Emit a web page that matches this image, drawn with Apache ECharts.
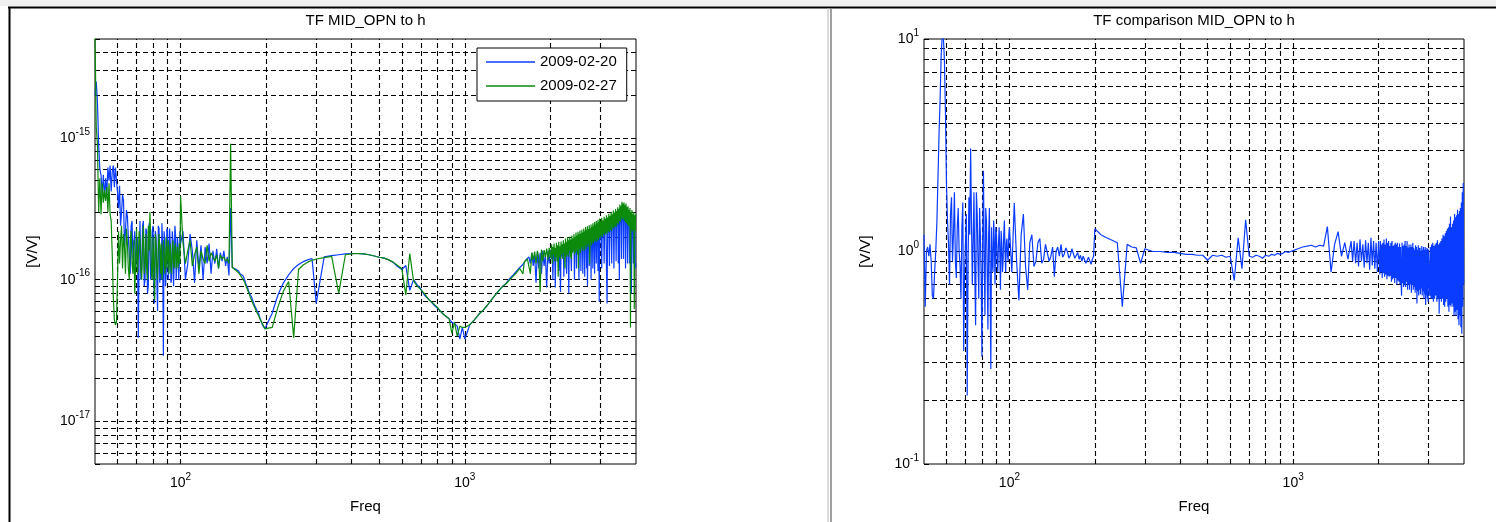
<!DOCTYPE html>
<html>
<head>
<meta charset="utf-8">
<script src="https://cdn.jsdelivr.net/npm/echarts@6/dist/echarts.min.js"></script>
<style>
  html, body { margin: 0; padding: 0; background: #fff; }
  #chart { width: 1496px; height: 522px; }
</style>
</head>
<body>
<div id="chart"></div>
<script>
// Frequency bins shared by all three traces (Hz)
const freq = [
  50,50.5,51,51.5,52,52.5,53,53.5,54,54.5,55,55.5,56,56.5,57,57.5,58,58.5,59,59.5,60,
  60.5,61,61.5,62,62.5,63,63.5,64,64.5,65,65.5,66,66.5,67,67.5,68,68.5,69,69.5,70,
  70.5,71,71.5,72,72.5,73,73.5,74,74.5,75,75.5,76,76.5,77,77.5,78,78.5,79,79.5,80,
  80.5,81,81.5,82,82.5,83,83.5,84,84.5,85,85.5,86,86.5,87,87.5,88,88.5,89,89.5,90,
  90.5,91,91.5,92,92.5,93,93.5,94,94.5,95,95.5,96,96.5,97,97.5,98,98.5,99,99.5,100,
  102,104,106,108,110,112,114,116,118,120,122,124,126,128,130,132,134,136,138,140,142,144,146,148,150,
  152,154,156,158,160,162,164,166,168,170,172,174,176,178,180,182,184,186,188,190,192,194,196,198,200,
  210,220,230,240,250,260,270,280,290,300,
  320,340,360,380,400,420,440,460,480,500,
  520,540,560,580,600,620,640,660,680,700,720,740,760,780,800,820,840,860,880,900,920,940,960,980,1000,
  1040,1080,1120,1160,1200,1240,1280,1320,1360,1400,1440,1480,1520,1560,1600,
  1620,1640,1660,1680,1700,1720,1740,1760,1780,1800,1820,1840,1860,1880,1900,1920,1940,1960,1980,2000,
  2010,2020,2030,2040,2050,2060,2070,2080,2090,2100,2110,2120,2130,2140,2150,2160,2170,2180,2190,2200,
  2210,2220,2230,2240,2250,2260,2270,2280,2290,2300,2310,2320,2330,2340,2350,2360,2370,2380,2390,2400,
  2410,2420,2430,2440,2450,2460,2470,2480,2490,2500,2510,2520,2530,2540,2550,2560,2570,2580,2590,2600,
  2610,2620,2630,2640,2650,2660,2670,2680,2690,2700,2710,2720,2730,2740,2750,2760,2770,2780,2790,2800,
  2810,2820,2830,2840,2850,2860,2870,2880,2890,2900,2910,2920,2930,2940,2950,2960,2970,2980,2990,3000,
  3015,3030,3045,3060,3075,3090,3105,3120,3135,3150,3165,3180,3195,3210,3225,3240,3255,3270,3285,3300,
  3315,3330,3345,3360,3375,3390,3405,3420,3435,3450,3465,3480,3495,3510,3525,3540,3555,3570,3585,3600,
  3615,3630,3645,3660,3675,3690,3705,3720,3735,3750,3765,3780,3795,3810,3825,3840,3855,3870,3885,3900,
  3915,3930,3945,3960,3975,3990
];

// |TF| MID_OPN -> h, 2009-02-20 (units of 1e-16 V/V)
const tf0220 = [
  20,25,18,9,6,5.5,4,5.5,3.8,5.2,4.0,6.2,5,6.4,4.2,5.8,6.4,4.5,6.2,5,4.2,
  3.2,4.6,2.4,3.0,4.0,3.6,1.7,2.2,3.1,2.8,2.0,1.5,1.1,2.4,2.6,1.4,1.8,2.2,1.2,1.6,
  2.0,0.39,1.5,2.6,1.0,1.2,2.4,2.6,0.9,1.0,2.3,2.2,0.8,0.9,2.5,1.9,1.0,1.1,2.2,2.4,
  1.0,0.68,2.2,2.0,1.0,0.6,2.4,2.3,0.95,1.3,1.0,2.5,1.6,0.29,2.2,1.9,0.9,1.1,2.3,2.2,
  1.0,1.3,2.3,1.8,0.95,1.0,2.2,1.9,0.9,1.4,2.4,2.1,1.0,1.3,2.0,1.7,1.0,1.3,2.2,1.8,
  2.2,1.0,1.3,2.1,1.6,0.95,1.9,1.2,1.75,1.0,1.7,1.3,1.8,1.1,1.6,1.3,1.65,1.2,1.55,1.35,1.6,1.25,1.45,1.07,3.2,
  1.22,1.25,1.19,1.2,1.15,1.1,1.08,1.06,1.0,0.92,0.88,0.82,0.78,0.75,0.7,0.66,0.64,0.6,0.58,0.54,0.53,0.48,0.49,0.45,0.46,
  0.58,0.78,0.95,1.08,1.2,1.28,1.34,1.38,1.41,0.68,
  1.45,1.48,1.5,1.52,1.53,1.53,1.52,1.5,1.47,1.44,
  1.42,1.38,1.32,1.24,1.18,1.26,0.84,1.0,0.92,0.86,0.78,0.74,0.7,0.66,0.63,0.6,0.57,0.55,0.53,0.5,0.49,0.47,0.38,0.46,0.38,
  0.48,0.52,0.57,0.61,0.66,0.72,0.78,0.84,0.9,0.95,1.02,1.08,1.15,1.22,1.28,
  1.32,1.38,1.36,1.45,1.3,1.55,1.25,1.5,0.95,1.58,1.2,1.55,1.1,1.6,1.25,1.52,0.88,1.6,1.3,1.62,
  1.6,1.4,1.65,1.0,1.6,1.4,1.65,0.88,1.6,1.45,1.7,1.35,1.65,1.15,1.7,1.45,0.82,1.7,1.45,1.75,
  1.5,1.75,1.05,1.75,1.5,1.8,1.45,1.1,1.8,1.5,1.85,0.8,1.8,1.55,1.85,1.5,1.15,1.9,1.55,1.85,
  1.6,1.9,1.0,1.95,1.6,1.9,1.2,1.95,1.6,1.95,1.65,1.0,2.0,1.65,2.05,1.15,2.0,1.7,2.05,1.1,
  2.1,1.7,2.05,1.05,2.1,1.75,2.15,1.2,2.1,0.9,2.15,1.8,2.1,1.25,2.2,1.8,2.15,1.0,2.2,1.85,
  2.25,1.2,2.2,1.85,2.3,1.1,2.25,1.9,2.3,1.3,2.35,1.95,2.3,1.15,2.4,1.9,0.7,2.4,1.95,2.45,
  2.0,1.2,2.45,2.05,2.5,1.3,2.5,2.1,2.55,1.15,0.68,2.6,2.15,2.65,1.25,2.7,2.2,2.7,1.3,2.75,
  2.3,2.8,1.2,2.85,2.35,2.9,1.35,2.95,2.4,3.05,1.3,3.1,1.0,3.2,2.5,3.3,1.4,3.35,2.6,3.4,
  1.4,3.35,2.55,3.3,1.2,3.25,2.5,3.15,1.3,3.1,2.4,3.0,1.3,2.95,2.3,2.9,0.8,2.85,2.25,2.8,
  1.3,2.75,2.2,2.7,1.2,1.3
];

// |TF| MID_OPN -> h, 2009-02-27 (units of 1e-16 V/V)
const tf0227 = [
  52,12,9,3,5.2,2.9,4.8,3.5,4.3,3.6,4.5,3.0,4.8,2.9,2.6,1.5,0.75,0.52,0.48,0.5,1.0,
  2.2,1.3,1.9,2.4,1.2,2.1,1.7,1.1,2.3,1.8,1.2,1.0,1.9,2.2,1.3,1.1,1.9,0.8,1.3,2.3,
  1.1,1.4,2.2,1.9,1.2,1.0,1.8,2.4,1.1,1.3,2.1,1.2,1.0,2.4,1.6,3.0,2.0,1.1,1.0,2.0,
  1.3,0.72,2.1,1.8,1.2,1.0,1.6,2.1,1.7,1.1,1.8,1.0,1.2,1.9,1.6,1.1,1.3,2.0,1.2,1.6,
  1.9,1.1,1.4,1.8,1.2,1.1,1.6,1.9,1.3,1.2,1.7,1.8,1.2,1.4,1.7,1.2,1.35,1.8,1.3,3.9,
  1.8,1.3,1.6,1.9,1.25,1.5,1.7,1.1,1.6,1.4,1.3,1.75,1.35,1.55,1.6,1.35,1.5,1.2,1.5,1.4,1.45,1.35,1.4,1.3,9.1,
  1.22,1.2,1.17,1.15,1.12,1.08,1.05,1.0,0.96,0.9,0.85,0.8,0.75,0.71,0.67,0.64,0.61,0.58,0.56,0.53,0.51,0.49,0.47,0.45,0.44,
  0.46,0.64,0.83,0.97,0.39,1.18,1.27,1.33,1.37,1.4,
  1.43,1.46,0.8,1.5,1.52,1.53,1.52,1.5,1.47,1.44,
  1.42,1.38,1.33,1.26,1.2,0.78,1.53,0.98,0.9,0.85,0.8,0.74,0.7,0.67,0.64,0.6,0.57,0.55,0.53,0.42,0.5,0.4,0.47,0.46,0.46,
  0.48,0.52,0.57,0.61,0.66,0.72,0.78,0.84,0.9,0.94,1.0,1.06,1.12,1.2,1.1,
  1.34,1.36,1.4,1.42,1.1,1.55,1.38,1.58,1.3,1.6,1.42,0.82,1.63,1.35,1.62,1.45,1.66,1.38,1.68,1.42,
  1.45,1.78,1.3,1.7,1.5,1.8,1.35,1.68,1.45,1.82,1.35,1.75,1.05,1.85,1.45,1.72,1.4,1.86,1.5,1.78,
  1.4,1.9,1.55,1.8,1.2,1.95,1.45,1.85,1.5,2.0,1.45,1.9,1.6,2.02,1.45,1.92,1.4,2.05,1.55,1.95,
  1.6,2.1,1.5,2.0,1.55,2.15,1.6,2.05,1.5,2.18,1.2,2.1,1.65,2.22,1.55,2.12,1.7,2.25,1.6,2.15,
  1.7,2.3,1.6,2.2,1.75,2.35,1.65,2.25,1.8,2.38,1.7,2.28,1.8,2.42,1.3,2.3,1.85,2.45,1.75,2.35,
  1.85,2.5,1.8,2.4,1.9,2.55,1.85,2.45,1.95,2.6,1.85,2.5,1.95,2.65,1.9,2.55,2.0,2.7,1.95,2.6,
  2.05,2.72,2.0,2.62,2.1,2.78,2.05,2.7,2.15,2.85,2.1,2.75,2.2,2.92,2.15,2.82,2.25,3.0,2.2,2.9,
  2.35,3.08,2.3,2.98,2.4,3.15,2.35,3.05,2.5,3.25,2.45,3.15,2.6,3.4,2.55,3.3,2.7,3.55,2.65,3.45,
  2.7,3.5,2.6,3.35,2.55,3.45,2.5,3.25,2.45,3.3,2.4,3.1,2.35,3.2,0.46,3.0,2.3,3.1,2.2,2.9,
  2.25,3.0,0.62,2.85,2.2,2.9
];

// Ratio of the two measurements (V/V)
const tfRatio = [
  1.2,0.55,1.0,1.05,0.95,1.08,0.9,0.62,0.6,0.8,1.0,1.36,2.2,3.6,5.3,8.5,10.5,10.2,8.0,4.6,2.1,
  1.4,1.1,0.7,1.5,1.8,0.9,1.2,1.9,0.9,0.75,1.3,1.6,1.0,0.85,0.6,1.3,1.7,0.34,0.8,1.1,
  1.5,0.21,0.9,1.8,1.2,3.05,1.4,0.7,1.1,1.9,0.8,0.45,1.9,1.5,0.9,0.6,1.6,1.2,0.8,0.32,
  1.1,2.4,0.9,0.5,1.6,1.4,0.8,0.43,1.2,1.6,0.7,0.28,1.3,0.9,0.8,1.4,1.1,0.7,1.3,1.2,
  0.9,0.8,1.1,1.3,1.0,0.66,1.25,1.1,0.8,0.9,1.2,1.4,1.0,0.8,1.1,1.15,0.95,0.9,1.2,1.3,
  0.8,1.69,0.9,0.59,1.2,1.5,0.85,0.66,1.1,1.2,0.85,0.9,1.1,1.15,0.88,0.92,1.08,1.1,0.9,0.95,1.05,0.76,1.0,1.05,0.95,
  1.08,0.94,0.97,1.04,1.0,0.93,0.96,1.03,1.02,0.93,0.94,0.99,0.92,0.96,0.9,0.95,0.93,0.88,0.89,0.94,0.95,0.87,0.92,0.95,1.28,
  1.2,1.16,1.13,1.1,0.55,1.08,1.05,1.04,0.88,1.03,
  1.0,1.0,0.99,0.99,0.98,0.97,0.97,0.96,0.96,0.91,
  0.96,0.95,0.96,0.94,0.95,0.73,1.16,0.83,1.41,0.95,0.94,0.96,0.95,0.93,0.96,0.95,0.97,0.96,0.98,0.97,0.98,1.0,0.99,1.0,1.01,
  1.03,1.05,1.06,1.07,1.05,1.07,1.06,1.31,0.8,1.08,1.24,0.95,1.1,0.92,1.12,
  0.9,1.12,0.88,1.1,0.85,1.14,0.9,1.08,0.84,1.13,0.88,1.1,0.82,1.16,0.86,1.12,0.83,1.1,0.8,1.12,
  1.1,0.78,1.12,0.8,1.08,0.75,1.1,0.79,1.14,0.76,1.08,0.78,1.15,0.74,1.1,0.77,1.12,0.76,1.06,0.77,
  1.1,0.72,1.12,0.74,1.06,0.75,1.08,0.71,1.1,0.75,1.08,0.7,1.1,0.73,1.05,0.72,1.09,0.7,1.05,0.73,
  0.62,1.1,0.71,1.06,0.68,1.08,0.7,1.12,0.68,1.06,0.72,1.12,0.66,1.04,0.7,1.08,0.66,1.05,0.7,1.08,
  0.64,1.05,0.7,1.1,0.66,1.04,0.68,1.02,0.64,1.07,0.66,1.05,0.57,1.02,0.65,1.07,0.62,1.04,0.66,1.04,
  0.63,1.0,0.67,1.06,0.62,1.02,0.65,1.05,0.6,1.02,0.63,1.05,0.56,1.02,0.62,1.04,0.6,1.03,0.58,1.02,
  1.02,0.62,1.05,0.6,1.08,0.6,1.1,0.58,1.06,0.6,1.08,0.62,1.1,0.58,1.13,0.6,1.08,0.51,1.1,0.6,
  1.12,0.58,1.15,0.6,1.2,0.56,1.18,0.55,1.22,0.58,1.25,0.6,1.28,0.55,1.3,0.52,1.35,0.56,1.46,0.55,
  1.3,0.57,1.35,0.55,1.4,0.5,1.5,0.52,1.45,0.5,1.48,0.53,1.57,0.48,1.5,0.45,1.55,0.5,1.6,0.44,
  1.7,0.41,1.9,0.55,2.1,0.7
];

// Grid line positions (decades plus their 2..9 subdivisions)
const xGridTicks = [60,70,80,90,100,200,300,400,500,600,700,800,900,1000,2000,3000];
const yGridLeft = [6e-18,7e-18,8e-18,9e-18,1e-17,2e-17,3e-17,4e-17,5e-17,6e-17,7e-17,8e-17,9e-17,
                   1e-16,2e-16,3e-16,4e-16,5e-16,6e-16,7e-16,8e-16,9e-16,1e-15,2e-15,3e-15,4e-15];
const yGridRight = [0.2,0.3,0.4,0.5,0.6,0.7,0.8,0.9,1,2,3,4,5,6,7,8,9];

const legendNames = ['2009-02-20', '2009-02-27'];
const UNIT = 1e-16;
const FONT = "'Liberation Sans', Arial, Helvetica, sans-serif";
const BLUE = '#0a3cff';
const GREEN = '#0c8a0c';

function powLabel(v) {
  const p = Math.log10(v);
  const e = Math.round(p);
  return Math.abs(p - e) < 1e-6 ? '{b|10}{e|' + e + '}' : '';
}
const labelRich = {
  b: { fontSize: 14, lineHeight: 22, fontFamily: FONT, color: '#000' },
  e: { fontSize: 10, lineHeight: 8, verticalAlign: 'top', fontFamily: FONT, color: '#000' }
};

function xAxisFor(idx) {
  return {
    type: 'log', logBase: 10, min: 50, max: 4000, gridIndex: idx, splitNumber: 2,
    axisLine: { show: false }, splitLine: { show: false },
    axisTick: { show: true, inside: true, length: 5, lineStyle: { color: '#000' } },
    axisLabel: { formatter: powLabel, rich: labelRich, margin: 8, showMinLabel: false, showMaxLabel: false },
    name: 'Freq', nameLocation: 'middle', nameGap: 35,
    nameTextStyle: { fontSize: 15, color: '#000', fontFamily: FONT }
  };
}
function yAxisFor(idx, min, max, gap, split) {
  return {
    type: 'log', logBase: 10, min: min, max: max, gridIndex: idx, splitNumber: split,
    axisLine: { show: false }, splitLine: { show: false },
    axisTick: { show: true, inside: true, length: 5, lineStyle: { color: '#000' } },
    axisLabel: { formatter: powLabel, rich: labelRich, margin: 5 },
    name: '[V/V]', nameLocation: 'middle', nameGap: gap, nameRotate: 90,
    nameTextStyle: { fontSize: 15, color: '#000', fontFamily: FONT }
  };
}
// Dashed grid drawn as mark lines at the tick values above
function gridLines(idx, xs, ys) {
  return {
    type: 'line', xAxisIndex: idx, yAxisIndex: idx, data: [], silent: true, z: 1,
    markLine: {
      silent: true, z: 1, precision: 20, symbol: ['none', 'none'], label: { show: false }, animation: false,
      lineStyle: { color: '#000', width: 1.1, type: [5, 3] },
      emphasis: { disabled: true },
      data: xs.map(v => ({ xAxis: v })).concat(ys.map(v => ({ yAxis: v })))
    }
  };
}
function trace(name, idx, values, scale, color, z) {
  return {
    name: name, type: 'line', xAxisIndex: idx, yAxisIndex: idx,
    data: freq.map((f, i) => [f, values[i] * scale]),
    symbol: 'none', showSymbol: false, z: z, animation: false,
    lineStyle: { color: color, width: 1.2 }, itemStyle: { color: color },
    emphasis: { disabled: true }
  };
}

const chart = echarts.init(document.getElementById('chart'), null, { renderer: 'canvas' });
chart.setOption({
  animation: false,
  backgroundColor: '#fff',
  textStyle: { fontFamily: FONT },
  grid: [
    { left: 95, top: 39, width: 541, height: 425, show: true, borderColor: '#000', borderWidth: 1, backgroundColor: '#fff' },
    { left: 924, top: 39, width: 540, height: 425, show: true, borderColor: '#000', borderWidth: 1, backgroundColor: '#fff' }
  ],
  xAxis: [xAxisFor(0), xAxisFor(1)],
  yAxis: [yAxisFor(0, 5e-18, 5e-15, 55, 3), yAxisFor(1, 0.1, 10, 51, 2)],
  legend: {
    data: legendNames, orient: 'vertical', left: 477, top: 48,
    icon: 'rect', itemWidth: 49, itemHeight: 1.5, itemGap: 8,
    padding: [6, 10, 7, 9], backgroundColor: '#fff', borderColor: '#000', borderWidth: 1,
    selectedMode: false,
    textStyle: { fontSize: 15, lineHeight: 16, color: '#000', fontFamily: FONT }
  },
  graphic: [
    { type: 'rect', silent: true, shape: { x: 0, y: 0, width: 1496, height: 6 }, style: { fill: '#f0f0f0' } },
    { type: 'line', silent: true, shape: { x1: 8, y1: 7.5, x2: 1496, y2: 7.5 }, style: { stroke: '#000', lineWidth: 2 } },
    { type: 'line', silent: true, shape: { x1: 9.5, y1: 7, x2: 9.5, y2: 522 }, style: { stroke: '#000', lineWidth: 2 } },
    { type: 'line', silent: true, shape: { x1: 828, y1: 8, x2: 828, y2: 522 }, style: { stroke: '#b8b8b8', lineWidth: 1 } },
    { type: 'line', silent: true, shape: { x1: 831, y1: 8, x2: 831, y2: 522 }, style: { stroke: '#808080', lineWidth: 1.5 } },
    { type: 'text', silent: true, x: 365.5, y: 21, style: { text: 'TF MID_OPN to h', align: 'center', verticalAlign: 'middle', fontSize: 15, fontFamily: FONT, fill: '#000' } },
    { type: 'text', silent: true, x: 1194, y: 21, style: { text: 'TF comparison MID_OPN to h', align: 'center', verticalAlign: 'middle', fontSize: 15, fontFamily: FONT, fill: '#000' } }
  ],
  series: [
    gridLines(0, xGridTicks, yGridLeft),
    gridLines(1, xGridTicks, yGridRight),
    trace(legendNames[0], 0, tf0220, UNIT, BLUE, 3),
    trace(legendNames[1], 0, tf0227, UNIT, GREEN, 4),
    trace('ratio', 1, tfRatio, 1, BLUE, 3)
  ]
});
</script>
</body>
</html>
